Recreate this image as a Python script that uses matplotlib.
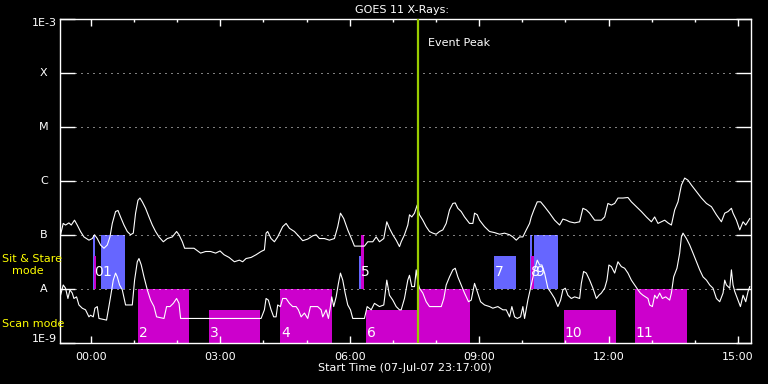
import matplotlib
matplotlib.use('Agg')
import numpy as np
import matplotlib.pyplot as plt
from matplotlib.ticker import FixedLocator, NullLocator, FuncFormatter

# GOES 11 X-ray flux, hours after 00:00 on 08-Jul-07, log10(W/m^2)
long_t = [-0.704, -0.642, -0.588, -0.510, -0.456, -0.380, -0.317, -0.241, -0.162, -0.046,
          0.031, 0.084, 0.147, 0.223, 0.302, 0.379, 0.441, 0.495, 0.571, 0.627,
          0.687, 0.766, 0.843, 0.919, 0.982, 1.035, 1.091, 1.137, 1.191, 1.267,
          1.346, 1.423, 1.499, 1.578, 1.678, 1.771, 1.887, 1.986, 2.042, 2.119,
          2.172, 2.390, 2.543, 2.659, 2.775, 2.891, 2.993, 3.086, 3.202, 3.278,
          3.325, 3.441, 3.517, 3.596, 3.712, 3.828, 3.944, 4.021, 4.060, 4.097,
          4.176, 4.253, 4.329, 4.445, 4.524, 4.601, 4.717, 4.833, 4.909, 5.025,
          5.141, 5.220, 5.296, 5.412, 5.528, 5.644, 5.721, 5.784, 5.860, 5.953,
          6.069, 6.108, 6.340, 6.417, 6.533, 6.612, 6.688, 6.788, 6.858, 6.920,
          6.997, 7.076, 7.152, 7.192, 7.268, 7.345, 7.384, 7.437, 7.500, 7.563,
          7.616, 7.693, 7.771, 7.848, 7.925, 8.003, 8.080, 8.157, 8.235, 8.312,
          8.389, 8.444, 8.505, 8.583, 8.660, 8.776, 8.853, 8.892, 8.955, 9.008,
          9.124, 9.240, 9.356, 9.472, 9.588, 9.704, 9.780, 9.859, 9.936, 10.012,
          10.091, 10.168, 10.207, 10.268, 10.346, 10.423, 10.516, 10.632, 10.748, 10.864,
          10.940, 11.019, 11.096, 11.212, 11.328, 11.404, 11.483, 11.560, 11.676, 11.831,
          11.908, 11.984, 12.063, 12.140, 12.216, 12.332, 12.448, 12.527, 12.643, 12.759,
          12.875, 12.991, 13.067, 13.144, 13.223, 13.299, 13.376, 13.455, 13.531, 13.608,
          13.687, 13.763, 13.840, 13.919, 14.035, 14.151, 14.267, 14.383, 14.498, 14.614,
          14.691, 14.768, 14.846, 14.884, 14.962, 15.039, 15.116, 15.178, 15.271]
long_lg = [-6.99, -6.78, -6.81, -6.77, -6.81, -6.72, -6.81, -6.93, -7.03, -7.09,
           -7.06, -6.99, -7.06, -7.18, -7.24, -7.18, -7.03, -6.78, -6.56, -6.54,
           -6.66, -6.81, -6.93, -6.99, -6.96, -6.59, -6.35, -6.31, -6.38, -6.50,
           -6.66, -6.81, -6.93, -7.03, -7.12, -7.06, -7.03, -6.93, -6.99, -7.12,
           -7.24, -7.24, -7.33, -7.30, -7.30, -7.33, -7.29, -7.36, -7.41, -7.46,
           -7.49, -7.46, -7.49, -7.43, -7.41, -7.36, -7.30, -7.27, -6.96, -6.93,
           -7.06, -7.12, -7.03, -6.84, -6.78, -6.87, -6.93, -7.03, -7.10, -7.07,
           -7.01, -6.99, -7.06, -7.06, -7.09, -7.06, -6.84, -6.59, -6.69, -6.90,
           -7.12, -7.20, -7.20, -7.12, -7.12, -7.03, -7.12, -7.06, -6.75, -6.87,
           -6.99, -7.09, -7.21, -7.12, -6.99, -6.81, -6.62, -6.66, -6.59, -6.44,
           -6.62, -6.72, -6.84, -6.93, -6.96, -6.98, -6.93, -6.90, -6.78, -6.53,
           -6.41, -6.40, -6.50, -6.56, -6.66, -6.78, -6.78, -6.59, -6.62, -6.72,
           -6.84, -6.93, -6.95, -6.98, -6.96, -6.99, -7.03, -7.09, -7.03, -7.03,
           -6.90, -6.78, -6.66, -6.53, -6.38, -6.38, -6.47, -6.59, -6.72, -6.81,
           -6.70, -6.72, -6.75, -6.77, -6.75, -6.50, -6.53, -6.59, -6.72, -6.72,
           -6.66, -6.41, -6.44, -6.41, -6.31, -6.31, -6.30, -6.38, -6.47, -6.56,
           -6.66, -6.75, -6.66, -6.78, -6.75, -6.72, -6.77, -6.81, -6.53, -6.38,
           -6.07, -5.94, -5.98, -6.07, -6.19, -6.31, -6.41, -6.47, -6.62, -6.75,
           -6.59, -6.56, -6.50, -6.59, -6.72, -6.90, -6.75, -6.81, -6.69]

short_t = [-0.704, -0.642, -0.588, -0.533, -0.486, -0.433, -0.394, -0.333, -0.278, -0.201,
           -0.125, -0.046, -0.009, 0.054, 0.093, 0.147, 0.186, 0.363, 0.418, 0.455,
           0.518, 0.571, 0.611, 0.664, 0.727, 0.803, 0.959, 1.012, 1.075, 1.114,
           1.167, 1.230, 1.307, 1.383, 1.462, 1.522, 1.694, 1.754, 1.833, 1.910,
           1.986, 2.042, 2.079, 3.944, 4.021, 4.060, 4.113, 4.176, 4.236, 4.292,
           4.329, 4.392, 4.445, 4.524, 4.601, 4.677, 4.756, 4.809, 4.872, 4.949,
           5.025, 5.088, 5.257, 5.336, 5.373, 5.452, 5.505, 5.552, 5.582, 5.628,
           5.684, 5.737, 5.784, 5.837, 5.893, 5.953, 6.016, 6.069, 6.340, 6.403,
           6.496, 6.572, 6.688, 6.788, 6.858, 6.920, 6.997, 7.076, 7.152, 7.192,
           7.268, 7.345, 7.384, 7.437, 7.500, 7.540, 7.577, 7.616, 7.693, 7.771,
           7.848, 8.120, 8.180, 8.235, 8.312, 8.389, 8.444, 8.505, 8.583, 8.660,
           8.753, 8.815, 8.892, 8.955, 9.031, 9.124, 9.240, 9.316, 9.432, 9.548,
           9.627, 9.704, 9.757, 9.820, 9.883, 9.959, 10.012, 10.052, 10.128, 10.207,
           10.284, 10.346, 10.400, 10.453, 10.516, 10.592, 10.671, 10.748, 10.824, 10.887,
           10.940, 10.996, 11.056, 11.135, 11.212, 11.328, 11.367, 11.420, 11.483, 11.560,
           11.636, 11.715, 11.775, 11.831, 11.908, 11.961, 12.007, 12.063, 12.140, 12.216,
           12.295, 12.371, 12.448, 12.527, 12.603, 12.680, 12.736, 12.796, 12.912, 12.951,
           13.014, 13.067, 13.121, 13.183, 13.246, 13.322, 13.415, 13.455, 13.508, 13.584,
           13.647, 13.687, 13.724, 13.803, 13.879, 13.956, 14.035, 14.111, 14.188, 14.267,
           14.343, 14.420, 14.498, 14.575, 14.652, 14.691, 14.730, 14.807, 14.846, 14.884,
           14.923, 15.000, 15.055, 15.116, 15.178, 15.232, 15.271]
short_lg = [-8.11, -7.92, -7.98, -8.17, -8.01, -8.07, -8.17, -8.14, -8.29, -8.35,
            -8.38, -8.51, -8.48, -8.51, -8.35, -8.32, -8.54, -8.57, -8.32, -8.14,
            -7.83, -7.70, -7.77, -7.92, -8.01, -8.29, -8.29, -7.83, -7.49, -7.43,
            -7.55, -7.77, -8.01, -8.20, -8.32, -8.51, -8.54, -8.32, -8.32, -8.26,
            -8.17, -8.26, -8.54, -8.54, -8.38, -8.17, -8.20, -8.38, -8.51, -8.51,
            -8.29, -8.32, -8.17, -8.17, -8.26, -8.32, -8.32, -8.38, -8.51, -8.44,
            -8.54, -8.32, -8.32, -8.38, -8.51, -8.38, -8.54, -8.32, -8.14, -8.32,
            -8.14, -7.89, -7.70, -7.83, -8.07, -8.29, -8.38, -8.54, -8.54, -8.32,
            -8.38, -8.26, -8.32, -8.29, -7.83, -8.11, -8.20, -8.32, -8.38, -8.38,
            -8.17, -7.83, -7.74, -7.95, -7.95, -7.64, -7.86, -7.98, -8.07, -8.23,
            -8.32, -8.32, -8.17, -7.92, -7.77, -7.64, -7.61, -7.77, -7.92, -8.07,
            -8.23, -8.20, -7.89, -8.04, -8.23, -8.29, -8.32, -8.35, -8.32, -8.38,
            -8.38, -8.51, -8.32, -8.51, -8.54, -8.51, -8.32, -8.54, -8.20, -7.92,
            -7.64, -7.46, -7.55, -7.55, -7.70, -7.98, -8.07, -8.17, -8.32, -8.20,
            -8.01, -7.98, -8.11, -8.17, -8.14, -8.17, -7.89, -7.67, -7.70, -7.83,
            -7.98, -8.17, -8.11, -8.07, -7.98, -7.83, -7.55, -7.58, -7.70, -7.49,
            -7.58, -7.61, -7.70, -7.83, -7.92, -8.01, -8.07, -8.11, -8.17, -8.29,
            -8.32, -8.11, -8.17, -8.07, -8.17, -8.14, -8.20, -8.07, -7.77, -7.61,
            -7.33, -7.03, -6.96, -7.06, -7.18, -7.33, -7.49, -7.64, -7.77, -7.83,
            -7.92, -7.98, -8.17, -8.23, -8.07, -7.83, -7.92, -7.98, -7.64, -7.92,
            -8.04, -8.20, -8.32, -8.11, -8.23, -8.04, -7.95]

# sit & stare observations (blue), bottom at A level
ss_start = [0.038, 0.242, 6.224, 9.333, 10.170, 10.280]
ss_end = [0.093, 0.800, 6.270, 9.860, 10.220, 10.820]
ss_top = [1e-7, 1e-7, 4.2e-8, 4.2e-8, 1e-7, 1e-7]
# narrow magenta marks inside the sit & stare band
mk_start = [0.077, 6.270, 10.190]
mk_end = [0.124, 6.330, 10.260]
mk_top = [4.2e-8, 1e-7, 4.2e-8]
# scan observations (magenta), bottom at 1E-9
sc_start = [1.098, 2.745, 4.392, 6.380, 7.577, 10.960, 12.600]
sc_end = [2.273, 3.928, 5.598, 7.577, 8.776, 12.170, 13.810]
sc_top = [1e-8, 4.2e-9, 1e-8, 4.2e-9, 1e-8, 4.2e-9, 1e-8]

obs_num = ['0', '1', '2', '3', '4', '5', '6', '7', '8', '9', '10', '11']
obs_t = [0.038, 0.242, 1.098, 2.745, 4.392, 6.224, 6.380, 9.333, 10.170, 10.280, 10.960, 12.600]
obs_ss = [True, True, False, False, False, True, False, True, True, True, False, False]

peak_t = 7.577
ylev = [1e-9, 1e-8, 1e-7, 1e-6, 1e-5, 1e-4, 1e-3]
ylab = ['1E-9', 'A', 'B', 'C', 'M', 'X', '1E-3']
ylab_pos = [10**-8.92, 1e-8, 1e-7, 1e-6, 1e-5, 1e-4, 10**-3.07]

BLUE = '#6666ff'
MAG = '#cc00cc'
YEL = '#ffff00'

fig = plt.figure(figsize=(7.68, 3.84), dpi=100, facecolor='black')
ax = fig.add_axes([60/768, 1-343.3/384, 691/768, 324/384])
ax.set_facecolor('black')
ax.set_yscale('log')
ax.set_ylim(1e-9, 1e-3)
ax.set_xlim(-0.7167, 15.30)

s = np.array
ax.bar(ss_start, s(ss_top) - 1e-8, width=s(ss_end) - s(ss_start), bottom=1e-8,
       align='edge', color=BLUE, linewidth=0, zorder=1)
ax.bar(mk_start, s(mk_top) - 1e-8, width=s(mk_end) - s(mk_start), bottom=1e-8,
       align='edge', color=MAG, linewidth=0, zorder=1.1)
ax.bar(sc_start, s(sc_top) - 1e-9, width=s(sc_end) - s(sc_start), bottom=1e-9,
       align='edge', color=MAG, linewidth=0, zorder=1)

for n, t, ss in zip(obs_num, obs_t, obs_ss):
    ax.text(t + 0.025, 2.1e-8 if ss else 1.55e-9, n, color='white', fontsize=10,
            ha='left', va='center', zorder=2)

# dotted level lines
for v in ylev[1:-1]:
    ax.axhline(v, xmin=0.0217, xmax=0.978, color='white', lw=0.72,
               linestyle=(0, (1, 5)), zorder=1.5)

ax.plot(long_t, 10**s(long_lg), color='white', lw=0.8, zorder=3)
ax.plot(short_t, 10**s(short_lg), color='white', lw=0.8, zorder=3)

ax.axvline(peak_t, color='#99cc00', lw=1.6, zorder=4)
ax.text(peak_t + 0.23, 0.927, 'Event Peak', color='white', fontsize=8,
        va='center', ha='left', transform=ax.get_xaxis_transform())

for sp in ax.spines.values():
    sp.set_color('white')
    sp.set_linewidth(1.0)

ax.yaxis.set_major_locator(FixedLocator(ylev))
ax.yaxis.set_minor_locator(NullLocator())
ax.set_yticklabels([])
ax.tick_params(axis='y', which='major', direction='in', length=10.8, width=1,
               color='white', left=True, right=True)
for v, lab in zip(ylab_pos, ylab):
    ax.text(-0.0232, v, lab, color='white', fontsize=8, ha='center', va='center',
            transform=ax.get_yaxis_transform())

ax.xaxis.set_major_locator(FixedLocator([0, 3, 6, 9, 12, 15]))
ax.xaxis.set_minor_locator(FixedLocator(range(0, 16)))
ax.xaxis.set_major_formatter(FuncFormatter(lambda v, p: '%02d:00' % int(round(v))))
ax.tick_params(axis='x', which='major', direction='in', length=5, width=1,
               color='white', labelcolor='white', labelsize=8, top=True, pad=6)
ax.tick_params(axis='x', which='minor', direction='in', length=2.5, width=1,
               color='white', top=True)

fig.text(402/768, 1-10/384, 'GOES 11 X-Rays:', color='white', fontsize=8,
         ha='center', va='center')
fig.text(405/768, 1-368/384, 'Start Time (07-Jul-07 23:17:00)', color='white',
         fontsize=8, ha='center', va='center')
fig.text(2/768, 1-259/384, 'Sit & Stare', color=YEL, fontsize=8, ha='left', va='center')
fig.text(12/768, 1-271/384, 'mode', color=YEL, fontsize=8, ha='left', va='center')
fig.text(2/768, 1-324/384, 'Scan mode', color=YEL, fontsize=8, ha='left', va='center')

fig.savefig('out.png', dpi=100, facecolor='black')
